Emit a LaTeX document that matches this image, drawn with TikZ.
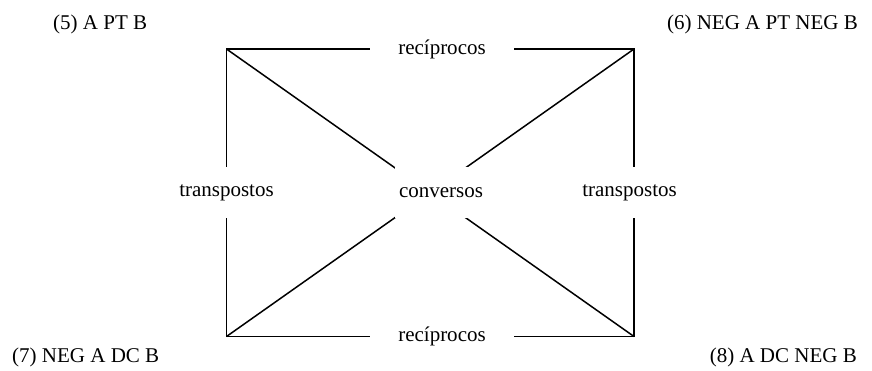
\documentclass[tikz,border=0pt]{standalone}
\usepackage{fontspec}
\setmainfont{Liberation Serif}

\begin{document}
\begin{tikzpicture}[x=1pt,y=-1pt,
    txt/.style={font=\fontsize{21}{25}\selectfont, inner sep=0pt},
    hgap/.style={txt, fill=white, inner xsep=28pt},
    vgap/.style={txt, fill=white, inner xsep=4pt, minimum height=51pt}]
        % Fix the canvas to the reference size
        \useasboundingbox (0,0) rectangle (872,370);
        
        % Corners of the square
        \coordinate (c5) at (226.5,49); % Top-left
        \coordinate (c6) at (634,49);   % Top-right
        \coordinate (c7) at (226.5,336.5); % Bottom-left
        \coordinate (c8) at (634,336.5);   % Bottom-right
        
        % Draw square and diagonals
        \draw[line width=1.5pt] (c5) -- (c6) -- (c8) -- (c7) -- cycle;
        \draw[line width=1.5pt] (c5) -- (c8);
        \draw[line width=1.5pt] (c6) -- (c7);
        
        % Relation labels on top of the lines
        \node[hgap] (recTop) at (442,49) {recíprocos};
        \node[hgap] (recBot) at (442,336.5) {recíprocos};
        \node[vgap] (traLeft) at (226.5,192.5) {transpostos};
        \node[vgap] (traRight) at (629.5,192.5) {transpostos};
        \node[vgap] (conv) at (441,192.5) {conversos};
        
        % Corner labels
        \node[txt, anchor=west] (p5) at (53,24) {(5) A PT B};
        \node[txt, anchor=east] (p6) at (858,24) {(6) NEG A PT NEG B};
        \node[txt, anchor=west] (p7) at (12,357) {(7) NEG A DC B};
        \node[txt, anchor=east] (p8) at (857,357) {(8) A DC NEG B};
        \end{tikzpicture}
\end{document}
